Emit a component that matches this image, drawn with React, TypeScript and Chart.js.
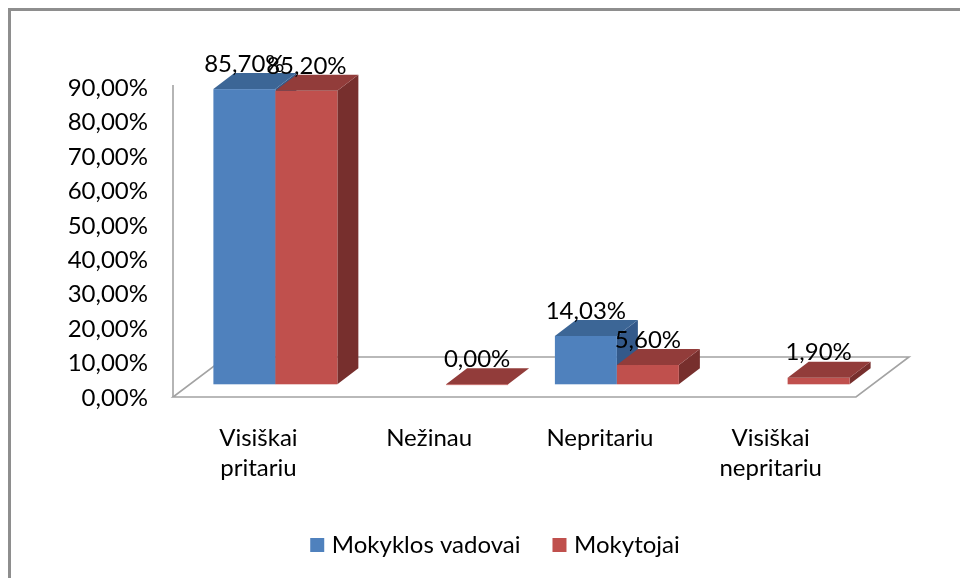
import React, { useEffect, useRef } from "react";
import { Chart, registerables } from "chart.js";

Chart.register(...registerables);

const categories: (string | string[])[] = [
  ["Visiškai", "pritariu"],
  "Nežinau",
  "Nepritariu",
  ["Visiškai", "nepritariu"],
];
const seriesNames = ["Mokyklos vadovai", "Mokytojai"];
const vadovai: (number | null)[] = [85.7, null, 14.03, null];
const mokytojai: (number | null)[] = [85.2, 0.0, 5.6, 1.9];
const yMin = 0;
const yMax = 90;
const yStep = 10;

const frontColors = ["#4F81BD", "#C0504D"];
const topColors = ["#3C6696", "#923C3A"];
const sideColors = ["#33598A", "#772F2D"];

const FONT = "Lato, 'DejaVu Sans', sans-serif";
const FONT_SIZE = 24;
const TEXT = "#000000";

const fmt = (v: number) => v.toFixed(2).replace(".", ",") + "%";

// 3D projection offsets (pixels)
const G = { fx: 17, fy: -13.7, dx: 21, dy: -16, floorDx: 53, floorDy: -40 };

const threeDPlugin = {
  id: "threeD",
  beforeDraw(chart: any) {
    const { ctx, chartArea: a } = chart;
    ctx.save();
    // outer frame
    ctx.strokeStyle = "#8e8e8e";
    ctx.lineWidth = 3;
    ctx.beginPath();
    ctx.moveTo(9.5, chart.height + 5);
    ctx.lineTo(9.5, 9.5);
    ctx.lineTo(chart.width + 5, 9.5);
    ctx.stroke();
    // floor
    const yb = a.bottom - 1;
    ctx.strokeStyle = "#a3a3a3";
    ctx.lineWidth = 1.6;
    ctx.beginPath();
    ctx.moveTo(a.left, yb);
    ctx.lineTo(a.right, yb);
    ctx.lineTo(a.right + G.floorDx, yb + G.floorDy);
    ctx.lineTo(a.left + G.floorDx, yb + G.floorDy);
    ctx.closePath();
    ctx.stroke();
    // vertical axis line
    ctx.beginPath();
    ctx.moveTo(a.left, a.top - 3);
    ctx.lineTo(a.left, yb);
    ctx.stroke();
    ctx.restore();
  },
  beforeDatasetsDraw(chart: any) {
    const { ctx } = chart;
    const n = chart.data.labels.length;
    const labels: { x: number; y: number; t: string }[] = [];
    ctx.save();
    const poly = (pts: number[][], color: string) => {
      ctx.fillStyle = color;
      ctx.beginPath();
      ctx.moveTo(pts[0][0], pts[0][1]);
      for (let k = 1; k < pts.length; k++) ctx.lineTo(pts[k][0], pts[k][1]);
      ctx.closePath();
      ctx.fill();
    };
    for (let i = 0; i < n; i++) {
      chart.data.datasets.forEach((ds: any, d: number) => {
        const v = ds.data[i];
        if (v === null || v === undefined) return;
        const el = chart.getDatasetMeta(d).data[i];
        const x0 = el.x - el.width / 2 + G.fx;
        const x1 = el.x + el.width / 2 + G.fx;
        const yT = el.y + G.fy;
        const yB = el.base + G.fy;
        poly(
          [
            [x1, yT],
            [x1 + G.dx, yT + G.dy],
            [x1 + G.dx, yB + G.dy],
            [x1, yB],
          ],
          sideColors[d]
        );
        ctx.fillStyle = frontColors[d];
        ctx.fillRect(x0, yT, x1 - x0, Math.max(yB - yT, 0.8));
        poly(
          [
            [x0, yT],
            [x0 + G.dx, yT + G.dy],
            [x1 + G.dx, yT + G.dy],
            [x1, yT],
          ],
          topColors[d]
        );
        labels.push({ x: (x0 + x1) / 2, y: yT - 25, t: fmt(v) });
      });
    }
    ctx.fillStyle = TEXT;
    ctx.font = `${FONT_SIZE}px ${FONT}`;
    ctx.textAlign = "center";
    ctx.textBaseline = "middle";
    labels.forEach((l) => ctx.fillText(l.t, l.x, l.y));
    ctx.restore();
    return false;
  },
  afterDraw(chart: any) {
    const { ctx } = chart;
    ctx.save();
    ctx.font = `${FONT_SIZE}px ${FONT}`;
    ctx.textBaseline = "middle";
    ctx.textAlign = "left";
    const sq = 14;
    const gap = 7.6;
    const between = 32;
    const names = chart.data.datasets.map((d: any) => d.label);
    const widths = names.map((t: string) => ctx.measureText(t).width);
    const total = names.length * (sq + gap) + widths.reduce((s: number, w: number) => s + w, 0) + between * (names.length - 1);
    let x = 495 - total / 2;
    const cy = 545;
    names.forEach((t: string, k: number) => {
      ctx.fillStyle = frontColors[k];
      ctx.fillRect(x, cy - 7, sq, sq);
      x += sq + gap;
      ctx.fillStyle = TEXT;
      ctx.fillText(t, x, cy);
      x += widths[k] + between;
    });
    ctx.restore();
  },
};

export default function App() {
  const ref = useRef<HTMLCanvasElement | null>(null);
  useEffect(() => {
    if (!ref.current) return;
    const chart = new Chart(ref.current, {
      type: "bar",
      data: {
        labels: categories,
        datasets: [
          { label: seriesNames[0], data: vadovai, backgroundColor: frontColors[0] },
          { label: seriesNames[1], data: mokytojai, backgroundColor: frontColors[1] },
        ],
      },
      options: {
        responsive: false,
        animation: false,
        events: [],
        layout: { padding: { left: 0, right: 104, top: 88, bottom: 0 } },
        datasets: { bar: { categoryPercentage: 0.726, barPercentage: 1 } },
        plugins: { legend: { display: false }, tooltip: { enabled: false } },
        scales: {
          x: {
            grid: { display: false, drawTicks: false },
            border: { display: false },
            ticks: {
              font: { family: FONT, size: FONT_SIZE, lineHeight: 1.22 },
              color: TEXT,
              padding: 26,
              maxRotation: 0,
              autoSkip: false,
            },
            afterFit: (s: any) => {
              s.height = 180;
            },
          },
          y: {
            min: yMin,
            max: yMax,
            grid: { display: false, drawTicks: false },
            border: { display: false },
            ticks: {
              stepSize: yStep,
              font: { family: FONT, size: FONT_SIZE },
              color: TEXT,
              padding: 25,
              callback: (v: any) => fmt(Number(v)),
            },
            afterFit: (s: any) => {
              s.width = 173;
            },
          },
        },
      } as any,
      plugins: [threeDPlugin],
    });
    return () => chart.destroy();
  }, []);
  return (
    <div style={{ position: "fixed", left: 0, top: 0, width: 960, height: 578, background: "#ffffff" }}>
      <canvas ref={ref} width={960} height={578} style={{ display: "block" }} />
    </div>
  );
}
